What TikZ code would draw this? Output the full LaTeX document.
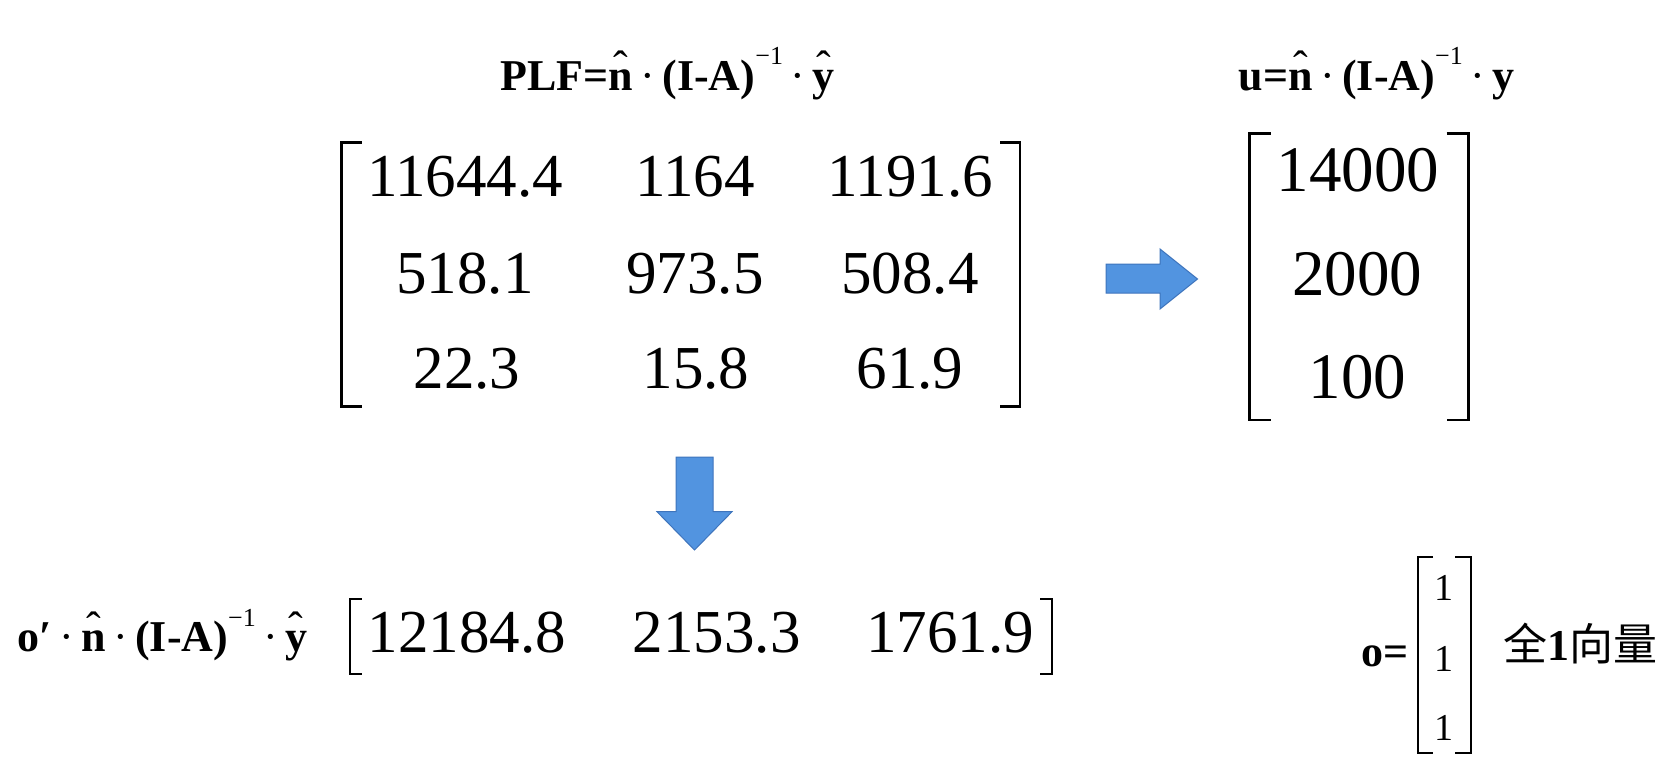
\documentclass[tikz,border=0pt]{standalone}
\usepackage{fontspec}
\setmainfont{Liberation Serif}
\newfontfamily\cjk{Noto Sans CJK SC}
\definecolor{arrowblue}{RGB}{82,148,224}
\definecolor{arrowedge}{RGB}{62,116,188}
\newcommand\hatx[1]{\setbox0\hbox{#1}\rlap{\hbox to\wd0{\hss\raisebox{0.2em}{\mdseries ˆ}\hss}}\box0}
\newcommand\invsup[1]{\raisebox{0.57em}{\mdseries\fontsize{#1}{#1}\selectfont −1}}
\newcommand\mdot{{\mdseries ·}}
\begin{document}
\begin{tikzpicture}[x=1pt,y=-1pt,
  every node/.style={inner sep=0pt,outer sep=0pt},
  num/.style={font=\fontsize{61}{61}\selectfont,anchor=base},
  vnum/.style={font=\fontsize{65}{65}\selectfont,anchor=base},
  onum/.style={font=\fontsize{38}{38}\selectfont,anchor=base},
  formula/.style={font=\fontsize{44}{44}\selectfont\bfseries,anchor=base},
  brk/.style={line width=2.6pt,line join=miter,line cap=butt},
  sbrk/.style={line width=2.2pt,line join=miter,line cap=butt},
  blockarrow/.style={fill=arrowblue,draw=arrowedge,line width=1pt,line join=miter}]
\useasboundingbox (0,0) rectangle (1669,771);
% titles
\node[formula] (plf) at (667.5,90) {PLF=\hatx{n}\,\mdot\,(I-A)\invsup{26}\,\mdot\,\hatx{y}};
\node[formula] (uf) at (1376.5,90) {u=\hatx{n}\,\mdot\,(I-A)\invsup{26}\,\mdot\,y};
\node[formula] (of) at (162.5,651.7) {o′\,\mdot\,\hatx{n}\,\mdot\,(I-A)\invsup{26}\,\mdot\,\hatx{y}};
% big matrix
\draw[brk] (361.7,142.7) -- (341.7,142.7) -- (341.7,406.7) -- (361.7,406.7);
\draw[brk] (1000,142.7) -- (1020,142.7) -- (1020,406.7) -- (1000,406.7);
\node[num] (m11) at (465,196.7) {11644.4};
\node[num] (m12) at (695,196.7) {1164};
\node[num] (m13) at (910,196.7) {1191.6};
\node[num] (m21) at (465,293) {518.1};
\node[num] (m22) at (695,293) {973.5};
\node[num] (m23) at (910,293) {508.4};
\node[num] (m31) at (467,388) {22.3};
\node[num] (m32) at (696,388) {15.8};
\node[num] (m33) at (910,388) {61.9};
% u vector
\draw[brk] (1270.7,133.3) -- (1249.3,133.3) -- (1249.3,420) -- (1270.7,420);
\draw[brk] (1446.7,133.3) -- (1468.3,133.3) -- (1468.3,420) -- (1446.7,420);
\node[vnum] (u1) at (1358,191) {14000};
\node[vnum] (u2) at (1357,295) {2000};
\node[vnum] (u3) at (1357.5,398) {100};
% bottom row vector
\draw[sbrk] (361.7,599) -- (350,599) -- (350,674.3) -- (361.7,674.3);
\draw[sbrk] (1040,599) -- (1051.7,599) -- (1051.7,674.3) -- (1040,674.3);
\node[num] (b1) at (466.7,652.7) {12184.8};
\node[num] (b2) at (716.7,652.7) {2153.3};
\node[num] (b3) at (950,652.7) {1761.9};
% o vector
\node[formula] (oeq) at (1385,666.7) {o=};
\draw[sbrk] (1433,556.7) -- (1418.3,556.7) -- (1418.3,753.3) -- (1433,753.3);
\draw[sbrk] (1455,556.7) -- (1470.7,556.7) -- (1470.7,753.3) -- (1455,753.3);
\node[onum] (o1) at (1444,600) {1};
\node[onum] (o2) at (1444,671) {1};
\node[onum] (o3) at (1444,740) {1};
\node[anchor=base,font=\fontsize{44}{44}\selectfont] (lbl) at (1580.6,660) {\cjk 全\textbf{\rmfamily 1}\cjk 向量};
% block arrows
\draw[blockarrow] (1106,264) -- (1160,264) -- (1160,249) -- (1197.5,279) -- (1160,309) -- (1160,293) -- (1106,293) -- cycle;
\draw[blockarrow] (676,457) -- (713,457) -- (713,511.7) -- (732,511.7) -- (694.5,550) -- (657,511.7) -- (676,511.7) -- cycle;
\end{tikzpicture}
\end{document}
